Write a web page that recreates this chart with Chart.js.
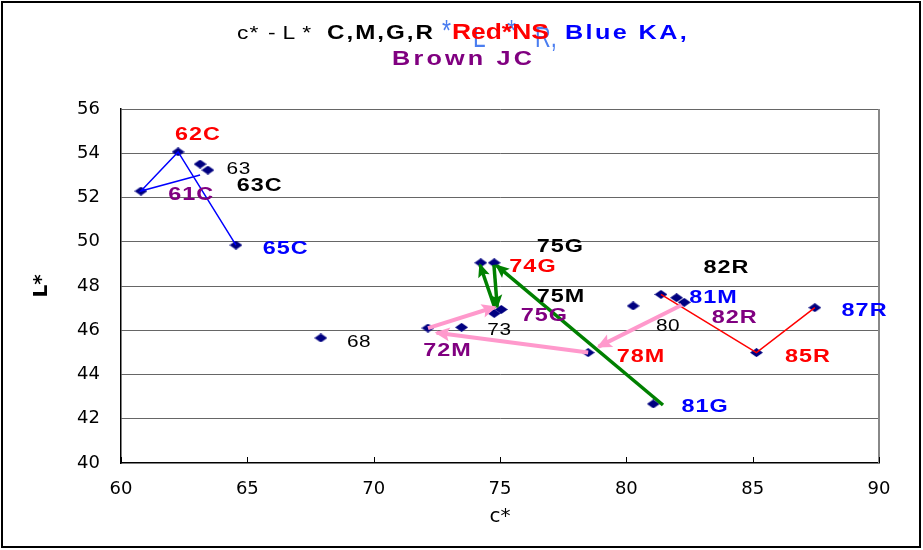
<!DOCTYPE html>
<html>
<head>
<meta charset="utf-8">
<script src="https://cdn.jsdelivr.net/npm/chart.js@4.4.0/dist/chart.umd.min.js"></script>
<style>
  html, body { margin: 0; padding: 0; background: #fff; }
</style>
</head>
<body>
<canvas id="myChart" width="923" height="550"></canvas>
<script>
// measured samples: c* (x) and L* (y)
var cStar = [62.26, 60.79, 63.13, 63.44, 64.55, 67.91, 72.15, 73.48, 74.77, 75.05, 74.24, 74.77, 80.27, 78.49, 81.37, 81.99, 82.29, 85.15, 87.46, 81.07];
var lStar = [54.06, 52.29, 53.51, 53.24, 49.85, 45.65, 46.10, 46.13, 46.76, 46.94, 49.05, 49.05, 47.10, 44.99, 47.62, 47.47, 47.26, 44.99, 47.02, 42.67];

// thin connecting lines
var blueLineC = [63.13, 60.79, 62.26, 64.55];
var blueLineL = [53.02, 52.29, 54.06, 49.85];
var redLineC = [81.37, 85.15, 87.46];
var redLineL = [47.62, 44.99, 47.02];

// arrows [fromC, fromL, toC, toL]
var pinkArrows = [[72.15, 46.10, 74.80, 47.05], [78.49, 44.99, 72.49, 45.89], [82.19, 47.14, 78.90, 45.26]];
var greenArrows = [[81.45, 42.62, 74.87, 48.92], [74.80, 47.00, 74.21, 48.95], [74.76, 48.95, 74.89, 47.06]];

// point labels (left edge c*, centre L*) and who they belong to
var labelText = ["62C", "63", "63C", "61C", "65C", "68", "75G", "74G", "75M", "75G", "73", "72M", "78M", "82R", "81M", "82R", "80", "87R", "85R", "81G"];
var labelC = [62.14, 64.18, 64.58, 61.87, 65.61, 68.94, 76.45, 75.37, 76.45, 75.82, 74.50, 71.96, 79.62, 83.05, 82.49, 83.38, 81.17, 88.52, 86.28, 82.18];
var labelL = [54.87, 53.32, 52.57, 52.20, 49.74, 45.51, 49.82, 48.93, 47.56, 46.73, 46.06, 45.11, 44.88, 48.87, 47.52, 46.61, 46.24, 46.95, 44.88, 42.62];
var labelGroup = ["NS", "", "CMGR", "JC", "KA", "", "CMGR", "NS", "CMGR", "JC", "", "JC", "NS", "CMGR", "KA", "JC", "", "KA", "NS", "KA"];

var xTicks = [60, 65, 70, 75, 80, 85, 90];
var yTicks = [40, 42, 44, 46, 48, 50, 52, 54, 56];

var groupColor = { NS: "#ff0000", KA: "#0000ff", JC: "#800080", CMGR: "#000000", "": "#000000" };

function pairs(xs, ys) {
  return xs.map(function(v, i) { return { x: v, y: ys[i] }; });
}

// flattened diamond marker
var diamond = document.createElement('canvas');
diamond.width = 13; diamond.height = 9;
(function() {
  var d = diamond.getContext('2d');
  d.fillStyle = '#000080';
  d.beginPath();
  d.moveTo(6.5, 0); d.lineTo(13, 4.5); d.lineTo(6.5, 9); d.lineTo(0, 4.5);
  d.closePath(); d.fill();
})();

function drawStretched(ctx, text, x, y, font, color, sx, spacing) {
  ctx.save();
  ctx.font = font;
  ctx.fillStyle = color;
  ctx.textBaseline = 'alphabetic';
  ctx.textAlign = 'left';
  var cx = x;
  for (var i = 0; i < text.length; i++) {
    var ch = text[i];
    ctx.save();
    ctx.translate(cx, y);
    ctx.scale(sx, 1);
    ctx.fillText(ch, 0, 0);
    ctx.restore();
    cx += ctx.measureText(ch).width * sx + spacing;
  }
  ctx.restore();
}

var datasets = [];
datasets.push({
  label: 'samples',
  data: pairs(cStar, lStar),
  pointStyle: diamond,
  pointRadius: 6,
  pointHoverRadius: 6,
  showLine: false,
  order: 10
});
datasets.push({
  data: pairs(blueLineC, blueLineL),
  showLine: true, borderColor: '#0000ff', borderWidth: 1.5, pointRadius: 0, order: 6
});
datasets.push({
  data: pairs(redLineC, redLineL),
  showLine: true, borderColor: '#ff0000', borderWidth: 1.5, pointRadius: 0, order: 6
});
pinkArrows.forEach(function(a) {
  datasets.push({
    data: [{ x: a[0], y: a[1] }, { x: a[2], y: a[3] }],
    showLine: true, borderColor: '#ff99cc', borderWidth: 4, pointRadius: 0, order: 4,
    arrowHead: { len: 15, width: 14 }
  });
});
greenArrows.forEach(function(a) {
  datasets.push({
    data: [{ x: a[0], y: a[1] }, { x: a[2], y: a[3] }],
    showLine: true, borderColor: '#008000', borderWidth: 3.5, pointRadius: 0, order: 3,
    arrowHead: { len: 14, width: 12 }
  });
});

var decor = {
  id: 'decor',
  beforeDraw: function(chart) {
    var ctx = chart.ctx;
    ctx.save();
    ctx.fillStyle = '#fff';
    ctx.fillRect(0, 0, chart.width, chart.height);
    ctx.restore();
  },
  afterDatasetsDraw: function(chart) {
    var ctx = chart.ctx;
    chart.data.datasets.forEach(function(ds, i) {
      if (!ds.arrowHead) return;
      var pts = chart.getDatasetMeta(i).data;
      var p0 = pts[0], p1 = pts[1];
      var ang = Math.atan2(p1.y - p0.y, p1.x - p0.x);
      var tx = p1.x + Math.cos(ang) * 2, ty = p1.y + Math.sin(ang) * 2;
      var L = ds.arrowHead.len, W = ds.arrowHead.width / 2;
      ctx.save();
      ctx.fillStyle = ds.borderColor;
      ctx.translate(tx, ty);
      ctx.rotate(ang);
      ctx.beginPath();
      ctx.moveTo(0, 0);
      ctx.lineTo(-L, -W);
      ctx.lineTo(-L * 0.8, 0);
      ctx.lineTo(-L, W);
      ctx.closePath();
      ctx.fill();
      ctx.restore();
    });
  },
  afterDraw: function(chart) {
    var ctx = chart.ctx;
    var xs = chart.scales.x, ys = chart.scales.y;
    var area = chart.chartArea;

    // plot frame right side, inner x ticks
    ctx.save();
    ctx.strokeStyle = '#888';
    ctx.lineWidth = 2;
    ctx.beginPath();
    ctx.moveTo(area.right, area.top);
    ctx.lineTo(area.right, area.bottom);
    ctx.stroke();
    ctx.strokeStyle = '#000';
    ctx.lineWidth = 1;
    xTicks.forEach(function(v) {
      var px = Math.round(xs.getPixelForValue(v)) + 0.5;
      ctx.beginPath();
      ctx.moveTo(px, area.bottom - 6);
      ctx.lineTo(px, area.bottom);
      ctx.stroke();
    });
    ctx.restore();

    // point labels
    labelText.forEach(function(t, i) {
      var g = labelGroup[i];
      var bold = g !== "";
      var size = bold ? 18 : 16;
      var px = xs.getPixelForValue(labelC[i]);
      var py = ys.getPixelForValue(labelL[i]) + size * 0.36;
      drawStretched(ctx, t, px, py, (bold ? 'bold ' : '') + size + 'px "Liberation Sans", Arial, sans-serif',
        groupColor[g], 1.3, bold ? 1 : 0.5);
    });

    // title
    var F = '"Liberation Sans", Arial, sans-serif';
    drawStretched(ctx, 'c*', 237, 39, '19px ' + F, '#000', 1.2, 1);
    drawStretched(ctx, '-L*', 268, 39, '19px ' + F, '#000', 1.2, 7);
    drawStretched(ctx, 'C,M,G,R', 327, 39, 'bold 21px ' + F, '#000', 1.15, 2);
    var overlay = '#4a7df0';
    drawStretched(ctx, '*', 442, 40, '29px ' + F, overlay, 0.8, 0);
    drawStretched(ctx, 'L', 473, 47, '29px ' + F, overlay, 0.78, 0);
    drawStretched(ctx, '*', 507, 40, '29px ' + F, overlay, 0.8, 0);
    drawStretched(ctx, 'R,', 535, 47, '29px ' + F, overlay, 0.75, 0);
    drawStretched(ctx, 'Red*NS', 452, 39, 'bold 22px ' + F, '#ff0000', 1.2, 0);
    drawStretched(ctx, 'Blue KA,', 565, 39, 'bold 21px ' + F, '#0000ff', 1.2, 2.4);
    drawStretched(ctx, 'Brown JC', 392, 65, 'bold 21px ' + F, '#800080', 1.2, 3.2);

    // outer frame
    ctx.save();
    ctx.strokeStyle = '#000';
    ctx.lineWidth = 2;
    ctx.strokeRect(2, 2, 918, 545);
    ctx.restore();
  }
};

var ctx = document.getElementById('myChart').getContext('2d');
var chart = new Chart(ctx, {
  type: 'scatter',
  data: { datasets: datasets },
  plugins: [decor],
  options: {
    responsive: false,
    animation: false,
    devicePixelRatio: 1,
    layout: { padding: { left: 0, right: 44, top: 109, bottom: 0 } },
    plugins: { legend: { display: false }, tooltip: { enabled: false } },
    scales: {
      x: {
        type: 'linear',
        min: 60, max: 90,
        afterBuildTicks: function(scale) { scale.ticks = xTicks.map(function(v) { return { value: v }; }); },
        afterFit: function(scale) { scale.height = 87; },
        grid: { display: false, drawTicks: false },
        border: { display: true, color: '#000', width: 1.5 },
        ticks: { padding: 16, color: '#000', font: { family: 'DejaVu Sans', size: 18 } },
        title: { display: true, text: 'c*', color: '#000', font: { family: 'DejaVu Sans', size: 20 }, padding: { top: 0, bottom: 21 } }
      },
      y: {
        type: 'linear',
        min: 40, max: 56,
        afterBuildTicks: function(scale) { scale.ticks = yTicks.map(function(v) { return { value: v }; }); },
        afterFit: function(scale) { scale.width = 121; },
        grid: {
          drawTicks: false,
          color: function(c) { return c.tick && c.tick.value === 40 ? 'rgba(0,0,0,0)' : '#666'; },
          lineWidth: 1
        },
        border: { display: true, color: '#000', width: 1.5 },
        ticks: { padding: 21, color: '#000', font: { family: 'DejaVu Sans', size: 18 } },
        title: { display: true, text: 'L*', color: '#000', font: { family: 'DejaVu Sans', size: 20, weight: 'bold' }, padding: { top: 30, bottom: 0 } }
      }
    }
  }
});
</script>
</body>
</html>
